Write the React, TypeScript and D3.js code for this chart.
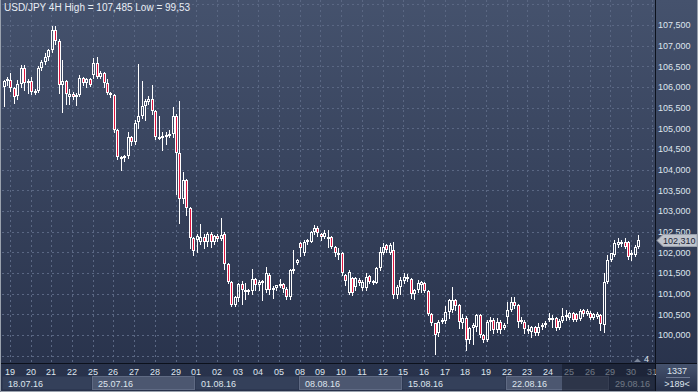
import { useEffect, useRef } from "react";
import * as d3 from "d3";

// USD/JPY 4H candles (slot 0 = last bar of 18.07)
const opens = [
  106.0, 106.15, 106.17, 105.97, 105.78, 106.07, 106.45, 106.1, 106.15, 105.87,
  105.9, 106.45, 106.6, 106.72, 106.9, 107.37, 107.12, 106.05, 106.15, 105.75,
  105.83, 105.76, 105.8, 106.21, 106.1, 106.19, 106.3, 106.57, 106.25, 106.33,
  106.1, 105.86, 105.8, 104.96, 104.31, 104.3, 104.32, 104.8, 104.68, 105.16,
  105.29, 105.54, 105.63, 105.71, 105.41, 104.79, 104.8, 104.8, 104.84, 104.87,
  105.29, 104.4, 103.28, 103.75, 103.07, 102.34, 102.3, 102.26, 102.38, 102.24,
  102.45, 102.24, 102.4, 102.33, 102.44, 101.72, 101.29, 100.73, 100.9, 101.23,
  101.08, 101.1, 101.06, 101.35, 101.2, 101.28, 101.1, 101.45, 101.1, 101.13,
  101.18, 101.23, 101.12, 100.93, 101.57, 101.75, 102.22, 101.98, 102.25, 102.26,
  102.48, 102.6, 102.45, 102.38, 102.34, 102.38, 102.14, 101.96, 101.98, 101.45,
  101.01, 101.37, 101.17, 101.33, 101.13, 101.13, 101.42, 101.27, 101.27, 101.61,
  101.98, 102.18, 101.98, 102.06, 100.97, 101.15, 101.3, 101.4, 101.35, 100.99,
  101.1, 101.22, 101.27, 101.07, 100.52, 100.28, 100.04, 100.32, 100.33, 100.56,
  100.6, 100.85, 100.73, 100.28, 100.4, 99.88, 100.16, 100.2, 100.48, 100.0,
  99.88, 100.32, 100.36, 100.12, 100.32, 100.18, 100.44, 100.6, 100.81, 100.73,
  100.32, 100.32, 100.14, 100.08, 100.19, 100.04, 100.19, 100.24, 100.36, 100.36,
  100.4, 100.16, 100.34, 100.44, 100.4, 100.53, 100.51, 100.38, 100.61, 100.51,
  100.53, 100.4, 100.44, 100.48, 100.24, 101.29, 101.81, 101.94, 102.18, 102.26,
  102.26, 102.26, 101.94, 101.94, 102.14,
];
const highs = [
  106.18, 106.25, 106.35, 106.0, 106.17, 106.53, 106.53, 106.2, 106.25, 105.95,
  106.5, 106.65, 106.83, 106.93, 107.485, 107.48, 107.15, 106.65, 106.17, 105.95,
  105.88, 105.85, 106.29, 106.23, 106.21, 106.22, 106.69, 106.73, 106.38, 106.36,
  106.2, 105.88, 105.82, 104.98, 104.34, 104.36, 104.9, 104.82, 105.2, 106.56,
  106.15, 105.7, 105.78, 106.05, 105.45, 105.3, 104.9, 104.9, 104.97, 105.52,
  105.35, 105.67, 103.95, 103.78, 103.1, 102.36, 102.45, 102.68, 102.45, 102.5,
  102.48, 102.42, 102.44, 102.82, 102.48, 101.75, 101.3, 100.95, 101.25, 101.3,
  101.25, 101.12, 101.59, 101.38, 101.33, 101.33, 101.65, 101.5, 101.18, 101.22,
  101.35, 101.27, 101.15, 101.6, 102.06, 101.85, 102.26, 102.3, 102.33, 102.52,
  102.66, 102.64, 102.47, 102.54, 102.54, 102.4, 102.16, 102.1, 102.0, 101.47,
  101.57, 101.4, 101.4, 101.37, 101.33, 101.49, 101.45, 101.33, 101.65, 102.14,
  102.22, 102.2, 102.22, 102.26, 101.2, 101.41, 101.49, 101.48, 101.37, 101.12,
  101.33, 101.3, 101.29, 101.09, 100.54, 100.3, 100.36, 100.4, 100.69, 100.88,
  101.17, 100.87, 100.75, 100.52, 100.45, 100.2, 100.28, 100.52, 100.52, 100.02,
  100.36, 100.44, 100.4, 100.4, 100.36, 100.3, 100.81, 100.93, 100.93, 100.75,
  100.44, 100.36, 100.24, 100.22, 100.22, 100.28, 100.28, 100.35, 100.53, 100.48,
  100.44, 100.38, 100.65, 100.61, 100.55, 100.55, 100.53, 100.63, 100.63, 100.63,
  100.57, 100.53, 100.55, 100.5, 101.49, 101.94, 101.99, 102.3, 102.34, 102.3,
  102.34, 102.28, 102.06, 102.18, 102.42,
];
const lows = [
  105.55, 106.05, 105.9, 105.62, 105.7, 106.0, 105.93, 105.86, 105.83, 105.82,
  105.88, 106.4, 106.55, 106.65, 106.85, 107.05, 105.85, 105.4, 105.6, 105.6,
  105.7, 105.56, 105.78, 106.05, 106.0, 106.02, 106.22, 106.22, 106.22, 106.01,
  105.84, 105.75, 104.9, 104.25, 104.0, 104.2, 104.28, 104.6, 104.62, 105.0,
  105.25, 105.2, 105.6, 105.35, 104.75, 104.75, 104.48, 104.62, 104.78, 104.8,
  103.4, 102.71, 103.2, 102.9, 102.1, 101.94, 102.0, 102.2, 102.1, 102.15,
  102.13, 102.2, 102.28, 102.3, 101.6, 101.25, 100.7, 100.7, 100.82, 100.75,
  100.88, 101.0, 101.0, 101.1, 101.1, 100.85, 101.05, 101.0, 100.9, 101.1,
  101.15, 101.05, 100.87, 100.88, 101.5, 101.72, 101.9, 101.94, 102.2, 102.24,
  102.45, 102.4, 102.3, 102.35, 102.14, 102.1, 101.9, 101.85, 101.45, 101.2,
  100.98, 100.97, 101.1, 101.2, 101.1, 101.1, 101.25, 101.24, 101.25, 101.58,
  101.95, 102.0, 101.95, 100.89, 100.89, 101.0, 101.25, 101.3, 100.89, 100.87,
  101.05, 101.05, 101.05, 100.48, 100.25, 99.53, 99.98, 100.28, 100.3, 100.4,
  100.55, 100.6, 100.16, 100.16, 99.64, 99.8, 99.78, 100.1, 99.95, 99.84,
  99.85, 100.12, 100.04, 100.08, 100.04, 100.15, 100.3, 100.58, 100.65, 100.2,
  100.28, 100.04, 100.05, 99.96, 100.0, 100.0, 100.15, 100.2, 100.33, 100.2,
  100.12, 100.14, 100.32, 100.36, 100.38, 100.34, 100.34, 100.36, 100.46, 100.48,
  100.38, 100.38, 100.42, 100.12, 100.08, 101.25, 101.78, 101.9, 102.14, 102.15,
  102.1, 101.85, 101.81, 101.9, 102.1,
];
const closes = [
  106.15, 106.2, 105.97, 105.77, 106.07, 106.45, 106.1, 106.15, 105.87, 105.9,
  106.45, 106.6, 106.72, 106.9, 107.37, 107.12, 106.05, 106.15, 105.84, 105.83,
  105.76, 105.8, 106.21, 106.1, 106.19, 106.05, 106.57, 106.25, 106.33, 106.09,
  105.86, 105.8, 104.96, 104.31, 104.28, 104.33, 104.8, 104.68, 105.14, 105.29,
  105.54, 105.65, 105.71, 105.41, 104.79, 104.8, 104.82, 104.85, 104.87, 105.29,
  104.4, 103.28, 103.75, 103.07, 102.34, 102.04, 102.4, 102.38, 102.24, 102.45,
  102.24, 102.4, 102.33, 102.42, 101.72, 101.29, 100.73, 100.92, 101.23, 101.1,
  101.1, 101.06, 101.35, 101.22, 101.28, 101.3, 101.49, 101.1, 101.13, 101.2,
  101.23, 101.12, 100.91, 101.57, 101.6, 101.81, 102.1, 102.26, 102.3, 102.5,
  102.58, 102.46, 102.38, 102.46, 102.38, 102.14, 101.98, 101.99, 101.49, 101.3,
  101.53, 101.01, 101.37, 101.27, 101.29, 101.41, 101.29, 101.3, 101.61, 102.02,
  102.14, 102.06, 102.18, 100.97, 101.15, 101.33, 101.41, 101.35, 101.0, 101.1,
  101.25, 101.29, 101.07, 100.52, 100.28, 100.0, 100.32, 100.36, 100.56, 100.85,
  100.85, 100.69, 100.32, 100.4, 99.88, 100.16, 100.24, 100.48, 100.0, 99.88,
  100.32, 100.36, 100.12, 100.32, 100.12, 100.24, 100.6, 100.81, 100.69, 100.32,
  100.36, 100.14, 100.09, 100.2, 100.04, 100.2, 100.24, 100.3, 100.4, 100.42,
  100.16, 100.34, 100.46, 100.48, 100.53, 100.36, 100.36, 100.59, 100.51, 100.59,
  100.4, 100.51, 100.52, 100.26, 101.29, 101.81, 101.98, 102.22, 102.26, 102.2,
  102.14, 101.89, 101.98, 102.14, 102.31,
];

const dayLabels = [
  "19", "20", "21", "22", "25", "26", "27", "28", "29", "01", "02", "03", "04", "05", "08", "09",
  "10", "11", "12", "15", "16", "17", "18", "19", "22", "23", "24", "25", "26", "29", "30", "31",
];
const weekLabels = ["18.07.16", "25.07.16", "01.08.16", "08.08.16", "15.08.16", "22.08.16", "29.08.16"];
const weekStartDay = [-1, 4, 9, 14, 19, 24, 29];
const priceTicks = [100, 100.5, 101, 101.5, 102, 102.5, 103, 103.5, 104, 104.5, 105, 105.5, 106, 106.5, 107, 107.5];
const gridTicks = [99.5, ...priceTicks, 108];

const title = "USD/JPY 4H High = 107,485 Low = 99,53";
const barsOnScreen = ">189<";
const barsCount = "1337";
const shiftLabel = "4";

const W = 698;
const H = 392;
const plotRight = 655;
const plotBottom = 363;
const font = "'Liberation Sans', Arial, sans-serif";

const App = () => {
  const svgRef = useRef(null);

  useEffect(() => {
    const svg = d3.select(svgRef.current);
    svg.selectAll("*").remove();

    const x = d3.scaleLinear().domain([0, 188]).range([3.5, 652.1]);
    const y = d3.scaleLinear().domain([100, 107.5]).range([335, 25]);
    const fmt = (v) => d3.format(".3f")(v).replace(".", ",");
    const dayX = (d) => Math.round(x(1 + 6 * d)) + 3;

    // fond en dégradé
    const defs = svg.append("defs");
    const grad = defs.append("linearGradient").attr("id", "bg").attr("x1", 0).attr("y1", 0).attr("x2", 0).attr("y2", 1);
    grad.append("stop").attr("offset", "0%").attr("stop-color", "#45526d");
    grad.append("stop").attr("offset", "100%").attr("stop-color", "#27314a");
    svg.append("rect").attr("width", W).attr("height", H).attr("fill", "url(#bg)");

    const plot = svg.append("g");
    defs.append("clipPath").attr("id", "plotclip").append("rect")
      .attr("x", 2).attr("y", 0).attr("width", plotRight - 2).attr("height", plotBottom);
    plot.attr("clip-path", "url(#plotclip)");

    // grille
    plot.selectAll(".hgrid").data(gridTicks).enter().append("line")
      .attr("x1", 2).attr("x2", plotRight)
      .attr("y1", (d) => Math.round(y(d)) + 0.5).attr("y2", (d) => Math.round(y(d)) + 0.5)
      .attr("stroke", "#5a6783").attr("stroke-dasharray", "2,3");
    plot.selectAll(".vgrid").data(dayLabels).enter().append("line")
      .attr("x1", (d, i) => dayX(i) + 0.5).attr("x2", (d, i) => dayX(i) + 0.5)
      .attr("y1", 0).attr("y2", plotBottom)
      .attr("stroke", "#5a6783").attr("stroke-dasharray", "2,3");

    // bougies
    const candles = d3.range(closes.length).map((i) => ({
      i, o: opens[i], h: highs[i], l: lows[i], c: closes[i],
    }));
    const g = plot.selectAll(".candle").data(candles).enter().append("g").attr("shape-rendering", "crispEdges");
    const cx = (d) => Math.round(x(d.i));
    const top = (d) => Math.round(y(Math.max(d.o, d.c)));
    const bot = (d) => Math.max(Math.round(y(Math.min(d.o, d.c))), top(d) + 2);
    g.append("line")
      .attr("x1", (d) => cx(d) + 0.5).attr("x2", (d) => cx(d) + 0.5)
      .attr("y1", (d) => Math.round(y(d.h))).attr("y2", (d) => top(d))
      .attr("stroke", "#ffffff");
    g.append("line")
      .attr("x1", (d) => cx(d) + 0.5).attr("x2", (d) => cx(d) + 0.5)
      .attr("y1", (d) => bot(d)).attr("y2", (d) => Math.round(y(d.l)) + 1)
      .attr("stroke", "#ffffff");
    g.append("rect")
      .attr("x", (d) => cx(d) - 0.5).attr("width", 2)
      .attr("y", (d) => top(d) + 0.5).attr("height", (d) => bot(d) - top(d) - 1)
      .attr("fill", (d) => (d.c < d.o ? "#e0153f" : "none"))
      .attr("stroke", "#ffffff");

    // séparateurs des axes
    svg.append("line").attr("x1", plotRight + 0.5).attr("x2", plotRight + 0.5).attr("y1", 0).attr("y2", H)
      .attr("stroke", "#0c111c");
    svg.append("line").attr("x1", 0).attr("x2", W).attr("y1", plotBottom + 0.5).attr("y2", plotBottom + 0.5)
      .attr("stroke", "#0c111c");

    // axe des prix
    svg.selectAll(".ptick").data(priceTicks).enter().append("text")
      .attr("x", 658).attr("y", (d) => y(d) + 3.3)
      .attr("font-family", font).attr("font-size", 9).attr("fill", "#dfe5ee")
      .text(fmt);

    // étiquette du dernier cours
    const last = closes[closes.length - 1];
    const ly = Math.round(y(last));
    svg.append("path")
      .attr("d", `M657,${ly + 0.5} L663,${ly - 5.5} L697,${ly - 5.5} L697,${ly + 6.5} L663,${ly + 6.5} Z`)
      .attr("fill", "#bfc4cd").attr("stroke", "#9aa1ad");
    svg.append("text").attr("x", 663).attr("y", ly + 4)
      .attr("font-family", font).attr("font-size", 9).attr("fill", "#1c2436")
      .text(fmt(last));

    // axe du temps : semaines
    const weekX = weekStartDay.map((d) => Math.max(2, dayX(d) - 1));
    weekLabels.forEach((lab, i) => {
      const x0 = weekX[i];
      const x1 = i < weekLabels.length - 1 ? weekX[i + 1] : plotRight;
      svg.append("rect").attr("x", x0 + 0.5).attr("y", 376.5).attr("width", x1 - x0 - 1).attr("height", 13)
        .attr("fill", i % 2 ? "#4c5770" : "#34405a")
        .attr("stroke", i % 2 ? "#5f6a83" : "none");
      svg.append("text").attr("x", x0 + 6).attr("y", 387)
        .attr("font-family", font).attr("font-size", 9).attr("fill", "#dfe5ee").text(lab);
    });
    svg.selectAll(".day").data(dayLabels).enter().append("text")
      .attr("x", (d, i) => dayX(i)).attr("y", 375).attr("text-anchor", "middle")
      .attr("font-family", font).attr("font-size", 9).attr("fill", "#dfe5ee")
      .text((d) => d);

    // zone assombrie à droite de l'axe du temps
    svg.append("rect").attr("x", 562).attr("y", 364).attr("width", plotRight - 562).attr("height", 27)
      .attr("fill", "#141a2a").attr("opacity", 0.55);
    svg.append("rect").attr("x", plotRight + 1).attr("y", 364).attr("width", W - plotRight - 1).attr("height", 27)
      .attr("fill", "url(#bg)");

    // infos en bas à droite
    svg.append("text").attr("x", 677).attr("y", 374).attr("text-anchor", "middle")
      .attr("font-family", font).attr("font-size", 9).attr("fill", "#dfe5ee").text(barsCount);
    svg.append("line").attr("x1", 666).attr("x2", 690).attr("y1", 377.5).attr("y2", 377.5).attr("stroke", "#6d7891");
    svg.append("text").attr("x", 677).attr("y", 387).attr("text-anchor", "middle")
      .attr("font-family", font).attr("font-size", 9).attr("fill", "#dfe5ee").text(barsOnScreen);

    // repère du décalage du graphique
    svg.append("path").attr("d", "M634,362 L637.5,358.5 L641,362 Z").attr("fill", "#7c879b");
    svg.append("text").attr("x", 644).attr("y", 362)
      .attr("font-family", font).attr("font-size", 9).attr("fill", "#dfe5ee").text(shiftLabel);

    // titre
    svg.append("text").attr("x", 4).attr("y", 11)
      .attr("font-family", font).attr("font-size", 10).attr("fill", "#e8edf5").text(title);

    // cadre
    svg.append("path").attr("d", `M0.5,0 V${H - 0.5} H${W - 0.5} V0`)
      .attr("fill", "none").attr("stroke", "#9aa2ae");
  }, []);

  return (
    <div>
      <style>{`body{margin:0}`}</style>
      <svg ref={svgRef} width={W} height={H} style={{ display: "block" }}></svg>
    </div>
  );
};

export default App;
